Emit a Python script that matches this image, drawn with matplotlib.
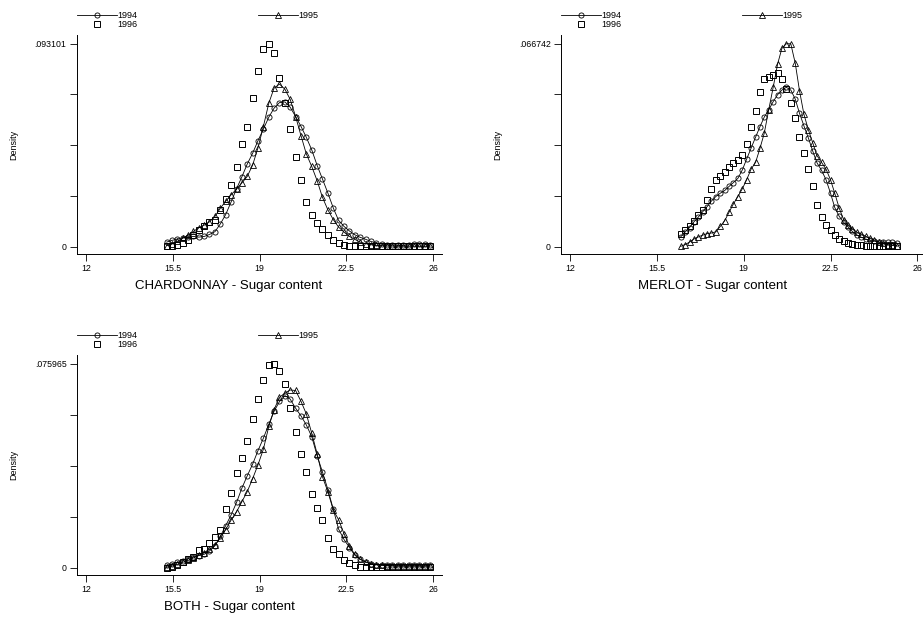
import numpy as np
import matplotlib
matplotlib.use("Agg")
import matplotlib.pyplot as plt

plt.rcParams["font.family"] = ["Liberation Sans", "DejaVu Sans"]

# evaluation grids of the kernel densities (sugar content)
grid_chard = [15.25, 15.47, 15.68, 15.90, 16.12, 16.33, 16.55, 16.77, 16.98, 17.20,
              17.42, 17.63, 17.85, 18.07, 18.28, 18.50, 18.72, 18.93, 19.15, 19.37,
              19.58, 19.80, 20.02, 20.23, 20.45, 20.67, 20.88, 21.10, 21.32, 21.53,
              21.75, 21.97, 22.18, 22.40, 22.62, 22.83, 23.05, 23.27, 23.48, 23.70,
              23.92, 24.13, 24.35, 24.57, 24.78, 25.00, 25.22, 25.43, 25.65, 25.87]
grid_merlot = [16.46, 16.64, 16.82, 16.99, 17.17, 17.35, 17.53, 17.70, 17.88, 18.06,
               18.24, 18.41, 18.59, 18.77, 18.95, 19.12, 19.30, 19.48, 19.66, 19.83,
               20.01, 20.19, 20.37, 20.54, 20.72, 20.90, 21.08, 21.25, 21.43, 21.61,
               21.79, 21.96, 22.14, 22.32, 22.50, 22.67, 22.85, 23.03, 23.21, 23.38,
               23.56, 23.74, 23.92, 24.09, 24.27, 24.45, 24.63, 24.80, 24.98, 25.16]
grid_both = grid_chard

# densities, in thousandths
chard_1994 = [2.1, 2.9, 3.5, 4.1, 4.6, 4.7, 4.4, 4.7, 5.6, 6.9,
              10.5, 14.7, 20.5, 26.6, 31.9, 37.9, 42.9, 48.5, 53.9, 59.4,
              63.5, 66.1, 66.4, 64.0, 59.7, 55.1, 50.2, 44.4, 37.2, 31.1,
              24.6, 17.7, 12.1, 9.3, 7.2, 5.5, 4.3, 3.4, 2.4, 1.8,
              1.2, 0.9, 0.8, 0.6, 0.6, 0.8, 1.2, 1.4, 1.1, 0.8]
chard_1995 = [0.5, 1.2, 2.4, 3.8, 5.3, 7.0, 8.7, 9.9, 11.4, 13.9,
              17.7, 20.8, 23.8, 26.4, 29.2, 32.2, 37.5, 45.2, 55.1, 65.8,
              72.7, 74.6, 72.2, 67.6, 59.7, 50.8, 42.6, 36.8, 30.2, 22.7,
              16.9, 12.4, 9.0, 6.7, 4.7, 3.4, 2.1, 1.4, 0.9, 0.6,
              0.5, 0.3, 0.3, 0.2, 0.2, 0.2, 0.2, 0.2, 0.2, 0.2]
chard_1996 = [0.2, 0.2, 0.9, 1.7, 3.2, 5.5, 7.8, 9.6, 11.1, 12.1,
              16.9, 21.8, 28.2, 36.5, 47.0, 54.8, 68.1, 80.7, 90.5, 93.101,
              88.7, 77.5, 66.1, 54.0, 41.1, 30.4, 20.3, 14.7, 10.8, 8.1,
              5.5, 2.9, 1.7, 0.6, 0.2, 0.1, 0.1, 0.1, 0.1, 0.1,
              0.1, 0.1, 0.1, 0.1, 0.1, 0.1, 0.1, 0.1, 0.1, 0.1]

merlot_1994 = [3.2, 4.8, 6.3, 8.1, 9.7, 11.5, 13.2, 15.0, 16.5, 17.6,
               18.5, 19.8, 21.1, 22.5, 25.3, 28.8, 32.4, 36.0, 39.5, 42.6,
               45.0, 47.7, 50.0, 51.5, 52.4, 51.5, 48.5, 43.9, 39.7, 35.7,
               31.3, 27.5, 25.1, 22.0, 17.6, 12.9, 10.0, 8.0, 6.5, 5.0,
               3.9, 3.1, 2.5, 2.1, 1.8, 1.5, 1.4, 1.4, 1.4, 1.3]
merlot_1995 = [0.1, 0.7, 1.5, 2.5, 3.2, 3.8, 4.3, 4.5, 4.9, 6.7,
               8.6, 11.3, 14.1, 16.5, 19.1, 22.0, 25.5, 27.7, 32.4, 37.3,
               45.0, 52.4, 60.1, 65.2, 66.742, 66.7, 60.3, 51.3, 43.5, 38.4,
               34.0, 29.9, 27.7, 25.5, 22.0, 17.6, 12.7, 8.9, 7.0, 5.8,
               4.8, 4.2, 3.4, 2.7, 2.1, 1.5, 1.1, 0.7, 0.4, 0.3]
merlot_1996 = [4.3, 5.6, 6.9, 8.6, 10.5, 12.1, 15.4, 18.9, 21.8, 23.4,
               24.7, 26.1, 27.5, 28.6, 30.1, 33.8, 39.2, 44.7, 50.7, 55.0,
               55.7, 56.5, 57.2, 55.0, 52.0, 47.4, 42.2, 36.0, 30.7, 25.5,
               20.0, 13.8, 9.7, 7.2, 5.6, 3.9, 2.6, 1.8, 1.2, 0.8,
               0.5, 0.4, 0.3, 0.2, 0.2, 0.2, 0.2, 0.2, 0.2, 0.2]

both_1994 = [0.9, 1.4, 2.0, 2.6, 3.4, 4.0, 4.5, 5.0, 6.2, 8.2,
             11.7, 15.6, 19.6, 24.3, 29.5, 34.2, 38.6, 43.5, 48.2, 53.4,
             58.2, 61.9, 64.1, 62.8, 59.4, 56.5, 53.2, 48.8, 41.6, 35.7,
             29.1, 21.7, 14.4, 10.5, 7.5, 4.7, 3.1, 2.1, 1.5, 1.1,
             0.9, 0.8, 0.8, 0.8, 0.8, 0.8, 0.8, 0.8, 0.8, 0.8]
both_1995 = [0.2, 0.6, 1.2, 2.0, 2.7, 3.6, 4.6, 5.6, 6.8, 8.3,
             11.1, 14.2, 17.7, 20.8, 24.5, 28.3, 33.2, 38.2, 44.1, 52.6,
             58.8, 63.5, 65.0, 66.2, 66.0, 61.9, 57.3, 50.1, 42.3, 33.9,
             28.3, 21.4, 17.9, 12.7, 8.0, 5.0, 3.2, 2.1, 1.5, 1.1,
             0.9, 0.7, 0.6, 0.5, 0.5, 0.5, 0.5, 0.5, 0.5, 0.5]
both_1996 = [0.0, 0.2, 0.9, 2.1, 3.1, 4.0, 6.5, 7.1, 9.3, 11.5,
             13.9, 22.0, 27.9, 35.1, 40.7, 47.2, 55.4, 62.9, 70.0, 75.6,
             75.965, 73.3, 68.4, 59.3, 50.7, 42.2, 35.5, 27.4, 22.4, 17.7,
             11.2, 7.1, 4.9, 3.0, 1.7, 0.9, 0.2, 0.1, 0.1, 0.1,
             0.1, 0.1, 0.1, 0.1, 0.1, 0.1, 0.1, 0.1, 0.1, 0.1]

x_ticks = [12, 15.5, 19, 22.5, 26]
x_tick_labels = ["12", "15.5", "19", "22.5", "26"]


def draw_panel(ax, title, x, d94, d95, d96):
    d94 = np.array(d94) / 1000
    d95 = np.array(d95) / 1000
    d96 = np.array(d96) / 1000

    style = dict(color="black", lw=0.6, mfc="none", mew=0.6)
    h94, = ax.plot(x, d94, "-o", ms=3.7, label="1994", **style)
    h95, = ax.plot(x, d95, "-^", ms=4.2, label="1995", **style)
    h96, = ax.plot(x, d96, "s", ls="none", ms=4.0, label="1996",
                   color="black", mfc="none", mew=0.7)

    ymax = max(d94.max(), d95.max(), d96.max())
    ax.set_ylim(-0.036 * ymax, 1.043 * ymax)
    ax.set_xlim(11.64, 26.35)
    ax.set_yticks(np.linspace(0, ymax, 5))
    ax.set_yticklabels(["0", "", "", "", f"{ymax:.6f}".lstrip("0")])
    ax.set_xticks(x_ticks)
    ax.set_xticklabels(x_tick_labels)

    for side in ("top", "right"):
        ax.spines[side].set_visible(False)
    for side in ("left", "bottom"):
        ax.spines[side].set_linewidth(0.7)
    ax.tick_params(length=5, width=0.6, labelsize=6.3, pad=2.5)

    ax.text(-0.1726, 0.5, "Density", rotation=90, fontsize=6.5,
            ha="center", va="center", transform=ax.transAxes)
    ax.text(0.4164, -0.146, f"{title} - Sugar content", fontsize=9.5,
            ha="center", va="center", transform=ax.transAxes)

    ax.legend([h94, h96, h95], ["1994", "1996", "1995"], ncol=2,
              loc="upper left", bbox_to_anchor=(0, 1.11), frameon=False,
              fontsize=6.5, handlelength=4.4, handletextpad=0.1,
              columnspacing=13.3, labelspacing=0.05, borderpad=0,
              borderaxespad=0, numpoints=1)


fig = plt.figure(figsize=(9.23, 6.18), dpi=100)
ax_chard = fig.add_axes([0.0834, 0.589, 0.3955, 0.3544])
ax_merlot = fig.add_axes([0.6078, 0.589, 0.3955, 0.3544])
ax_both = fig.add_axes([0.0834, 0.0696, 0.3955, 0.356])

draw_panel(ax_chard, "CHARDONNAY", grid_chard, chard_1994, chard_1995, chard_1996)
draw_panel(ax_merlot, "MERLOT", grid_merlot, merlot_1994, merlot_1995, merlot_1996)
draw_panel(ax_both, "BOTH", grid_both, both_1994, both_1995, both_1996)

fig.savefig("out.png", dpi=100)
